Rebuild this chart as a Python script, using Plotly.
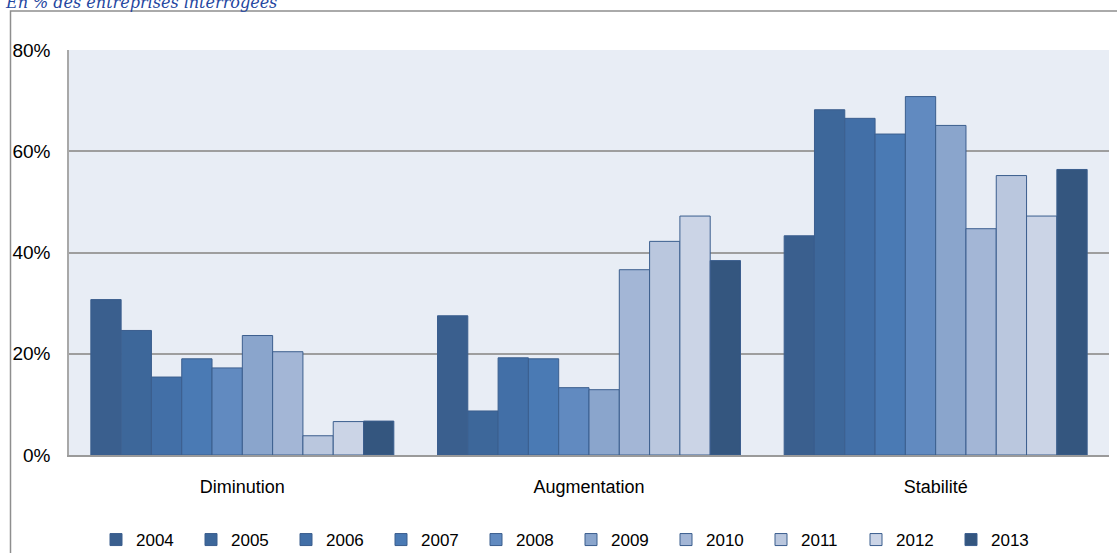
import plotly.graph_objects as go

# Survey categories and the share of firms (in %) per year
categories = ["Diminution", "Augmentation", "Stabilité"]
years = ["2004", "2005", "2006", "2007", "2008", "2009", "2010", "2011", "2012", "2013"]

values_2004 = [30.7, 27.5, 43.3]
values_2005 = [24.6, 8.7, 68.2]
values_2006 = [15.4, 19.2, 66.5]
values_2007 = [19.0, 19.0, 63.4]
values_2008 = [17.2, 13.3, 70.8]
values_2009 = [23.6, 12.9, 65.1]
values_2010 = [20.4, 36.6, 44.7]
values_2011 = [3.8, 42.2, 55.2]
values_2012 = [6.6, 47.2, 47.2]
values_2013 = [6.7, 38.4, 56.4]

series = [values_2004, values_2005, values_2006, values_2007, values_2008,
          values_2009, values_2010, values_2011, values_2012, values_2013]

y_ticks = [0, 20, 40, 60, 80]
y_tick_labels = ["0%", "20%", "40%", "60%", "80%"]

colors = ["#3A5F8E", "#3D679A", "#426FA7", "#4A7AB4", "#618AC0",
          "#8AA5CC", "#A3B6D6", "#BAC7DE", "#CBD4E6", "#34567F"]
outline = "#3B5E8E"

TICK_FONT = "'Liberation Sans', Arial, sans-serif"

fig = go.Figure()
for year, vals, col in zip(years, series, colors):
    fig.add_trace(go.Bar(
        name=year,
        x=categories,
        y=vals,
        marker=dict(color=col, line=dict(color=outline, width=1)),
        hoverinfo="x+y+name",
    ))

# Frame around the whole chart area
fig.add_shape(type="rect", xref="paper", yref="paper",
              x0=(10.5 - 69) / 1040, x1=1.03,
              y0=-0.4, y1=(455 - 11) / 405,
              line=dict(color="#8E8E8E", width=1.5), layer="below")

# Subtitle above the frame
fig.add_annotation(text="<i>En % des entreprises interrogées</i>",
                   xref="paper", yref="paper",
                   x=(3 - 69) / 1040, xanchor="left",
                   y=(455 - 14) / 405, yanchor="bottom",
                   showarrow=False,
                   font=dict(family="'DejaVu Serif', serif", size=16, color="#2446A0"))

fig.update_layout(
    width=1117, height=553,
    margin=dict(l=69, r=8, t=50, b=98, autoexpand=False),
    paper_bgcolor="white",
    plot_bgcolor="#E8EDF5",
    barmode="group",
    bargap=0.126,
    bargroupgap=0,
    showlegend=True,
    legend=dict(
        orientation="h",
        x=(96 - 69) / 1040, xanchor="left",
        y=(455 - 540) / 405, yanchor="middle",
        font=dict(family=TICK_FONT, size=17, color="#000000"),
        entrywidth=50, entrywidthmode="pixels",
        itemwidth=30,
        traceorder="normal",
        bgcolor="rgba(0,0,0,0)",
    ),
    xaxis=dict(
        showgrid=False,
        showline=True, linecolor="#9A9A9A", linewidth=2,
        ticks="", ticklabelstandoff=14,
        tickfont=dict(family=TICK_FONT, size=18, color="#000000"),
        mirror=False,
    ),
    yaxis=dict(
        range=[0, 80],
        tickvals=y_ticks, ticktext=y_tick_labels,
        showgrid=True, gridcolor="#9E9E9E", gridwidth=1.5,
        showline=True, linecolor="#A8A8A8", linewidth=1.5,
        zeroline=False,
        ticks="", ticklabelstandoff=13,
        tickfont=dict(family=TICK_FONT, size=19, color="#000000"),
    ),
)

fig.write_html("out.html")
